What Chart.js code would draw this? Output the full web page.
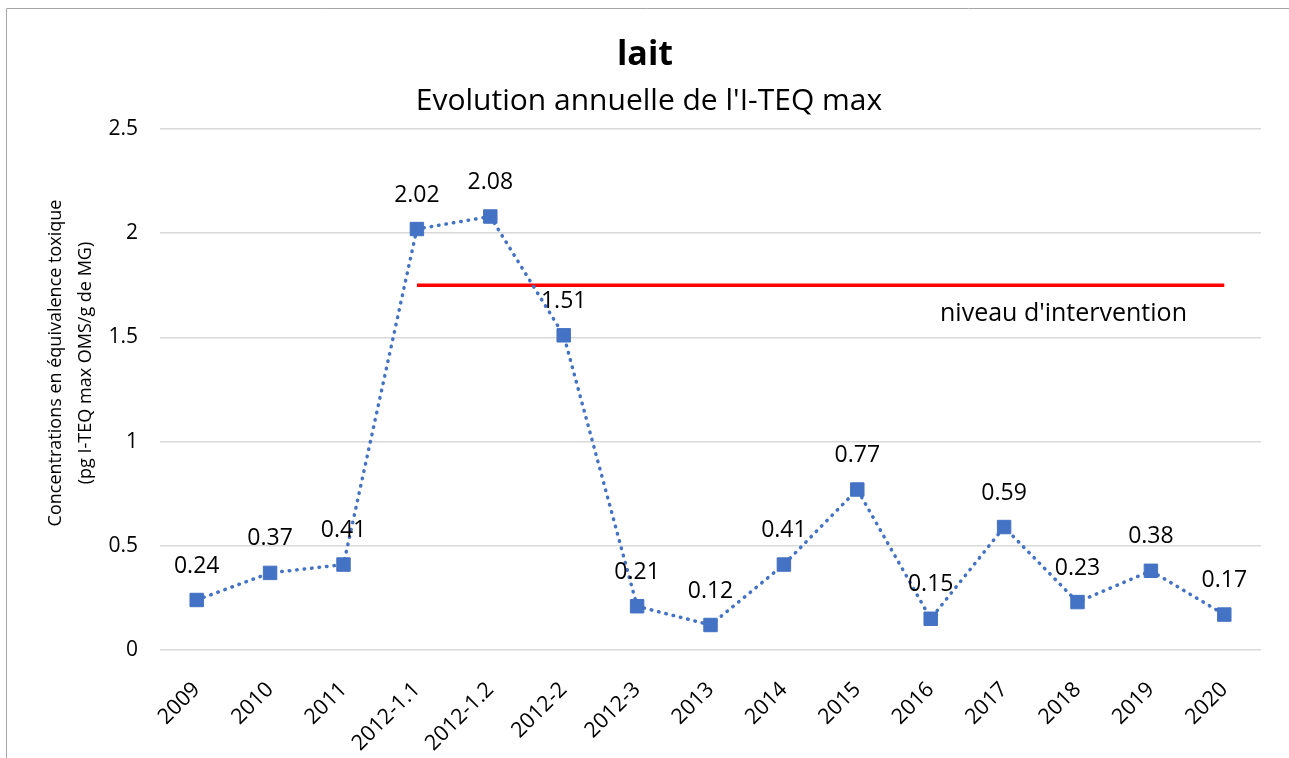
<!DOCTYPE html>
<html>
<head>
<meta charset="utf-8">
<script src="https://cdn.jsdelivr.net/npm/chart.js@4"></script>
<style>
  body { margin: 0; background: #fff; }
</style>
</head>
<body>
<canvas id="chart" width="1289" height="758"></canvas>
<script>
const categories = ["2009", "2010", "2011", "2012-1.1", "2012-1.2", "2012-2", "2012-3",
  "2013", "2014", "2015", "2016", "2017", "2018", "2019", "2020"];
const teqMax = [0.24, 0.37, 0.41, 2.02, 2.08, 1.51, 0.21, 0.12, 0.41, 0.77, 0.15, 0.59, 0.23, 0.38, 0.17];
// intervention level, starts at 2012-1.1
const interventionLevel = [null, null, null, 1.75, 1.75, 1.75, 1.75, 1.75, 1.75, 1.75, 1.75, 1.75, 1.75, 1.75, 1.75];
const interventionText = "niveau d'intervention";
const yMin = 0, yMax = 2.5, yStep = 0.5;

const FONT = "'Open Sans', 'Noto Sans', sans-serif";

// border, titles, y title and value labels
const decorations = {
  id: "decorations",
  beforeDraw(chart) {
    const ctx = chart.ctx;
    ctx.save();
    ctx.strokeStyle = "#a6a6a6";
    ctx.lineWidth = 1;
    ctx.beginPath();
    ctx.moveTo(6.5, 758);
    ctx.lineTo(6.5, 8.5);
    ctx.lineTo(1289, 8.5);
    ctx.stroke();

    ctx.fillStyle = "#000";
    ctx.textAlign = "center";
    ctx.textBaseline = "middle";
    ctx.font = "bold 34px " + FONT;
    ctx.fillText("lait", 645, 55);
    ctx.font = "30px " + FONT;
    ctx.fillText("Evolution annuelle de l'I-TEQ max", 649, 101);

    ctx.translate(0, 363);
    ctx.rotate(-Math.PI / 2);
    ctx.font = "18px " + FONT;
    ctx.fillText("Concentrations en équivalence toxique", 0, 56);
    ctx.fillText("(pg I-TEQ max OMS/g de MG)", 0, 86);
    ctx.restore();
  },
  afterDatasetsDraw(chart) {
    const ctx = chart.ctx;
    const meta = chart.getDatasetMeta(0);
    const x = chart.scales.x, y = chart.scales.y;
    ctx.save();
    ctx.fillStyle = "#000";
    ctx.textAlign = "center";
    ctx.textBaseline = "middle";
    ctx.font = "23px " + FONT;
    meta.data.forEach((pt, i) => {
      ctx.fillText(teqMax[i].toFixed(2), pt.x, pt.y - 34);
    });
    ctx.font = "25px " + FONT;
    ctx.fillText(interventionText, x.getPixelForValue(12) - 14, y.getPixelForValue(1.75) + 29);
    ctx.restore();
  }
};

new Chart(document.getElementById("chart"), {
  type: "line",
  data: {
    labels: categories,
    datasets: [
      {
        label: "I-TEQ max",
        data: teqMax,
        borderColor: "#4472C4",
        backgroundColor: "#4472C4",
        borderWidth: 3.5,
        borderDash: [0.5, 7],
        borderCapStyle: "round",
        pointStyle: "rect",
        pointRadius: 9.5,
        pointBorderColor: "#4472C4",
        pointBackgroundColor: "#4472C4",
        pointBorderWidth: 1,
        tension: 0
      },
      {
        label: interventionText,
        data: interventionLevel,
        borderColor: "#FF0000",
        borderWidth: 3.5,
        pointRadius: 0,
        spanGaps: false
      }
    ]
  },
  options: {
    responsive: false,
    animation: false,
    layout: { padding: { top: 129, right: 28, left: 0, bottom: 0 } },
    plugins: {
      legend: { display: false },
      tooltip: { enabled: false }
    },
    scales: {
      x: {
        offset: true,
        grid: { display: false, drawTicks: false },
        border: { display: false },
        ticks: {
          color: "#000",
          font: { family: FONT, size: 21.5 },
          minRotation: 45,
          maxRotation: 45,
          padding: 27,
          autoSkip: false
        },
        afterFit: s => { s.height = 108; }
      },
      y: {
        min: yMin,
        max: yMax,
        grid: { color: "#d9d9d9", lineWidth: 1.5, drawTicks: false },
        border: { display: false },
        ticks: {
          stepSize: yStep,
          color: "#000",
          font: { family: FONT, size: 21 },
          padding: 22,
          callback: v => String(v)
        },
        afterFit: s => { s.width = 160; }
      }
    }
  },
  plugins: [decorations]
});
</script>
</body>
</html>
